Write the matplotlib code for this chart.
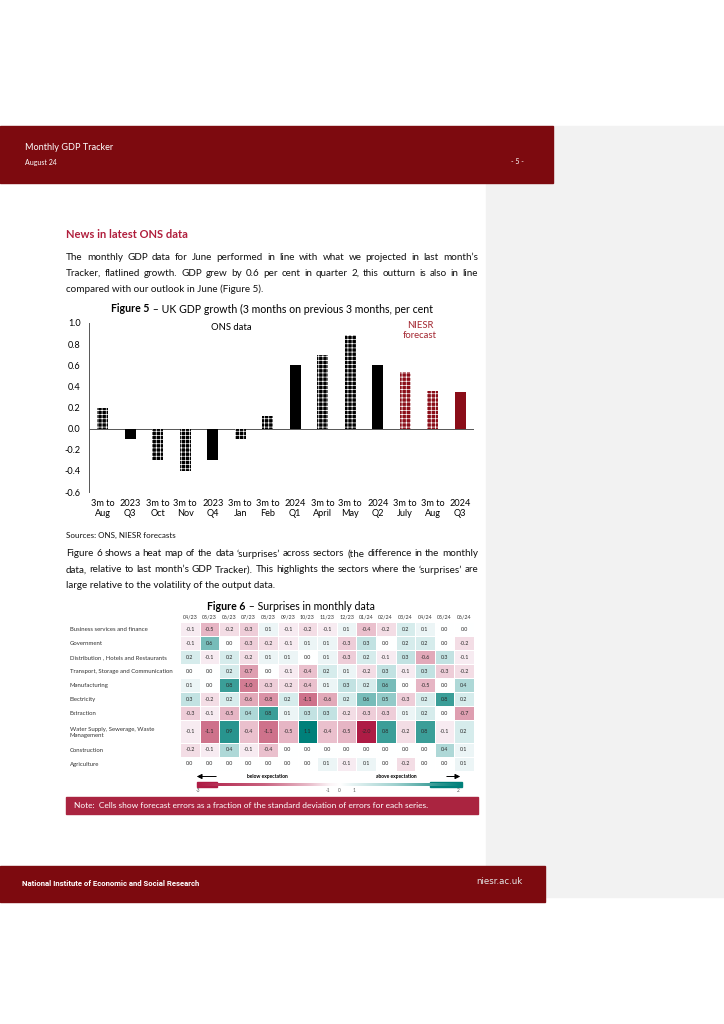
import matplotlib
matplotlib.use('Agg')
import matplotlib.pyplot as plt
import numpy as np
from matplotlib.colors import LinearSegmentedColormap, TwoSlopeNorm
from matplotlib.patches import Rectangle, FancyArrowPatch
from matplotlib.ticker import FormatStrFormatter

plt.rcParams['font.family'] = ['Lato', 'DejaVu Sans']
plt.rcParams['axes.unicode_minus'] = False
plt.rcParams['hatch.linewidth'] = 0.5

# ---------------- data ----------------
bar_labels = ['3m to\nAug', '2023\nQ3', '3m to\nOct', '3m to\nNov', '2023\nQ4', '3m to\nJan',
              '3m to\nFeb', '2024\nQ1', '3m to\nApril', '3m to\nMay', '2024\nQ2', '3m to\nJuly',
              '3m to\nAug', '2024\nQ3']
gdp_growth = [0.2, -0.1, -0.3, -0.4, -0.3, -0.1, 0.12, 0.6, 0.7, 0.89, 0.6, 0.54, 0.36, 0.35]
is_quarter = [False, True, False, False, True, False, False, True, False, False, True, False, False, True]
is_forecast = [False] * 11 + [True] * 3
y_ticks = [1.0, 0.8, 0.6, 0.4, 0.2, 0.0, -0.2, -0.4, -0.6]

sectors = ['Business services and finance', 'Government', 'Distribution , Hotels and Restaurants',
           'Transport, Storage and Communication', 'Manufacturing', 'Electricity', 'Extraction',
           'Water Supply, Sewerage, Waste\nManagement', 'Construction', 'Agriculture']
months = ['04/23', '05/23', '06/23', '07/23', '08/23', '09/23', '10/23', '11/23', '12/23',
          '01/24', '02/24', '03/24', '04/24', '05/24', '06/24']
business = [-0.1, -0.5, -0.2, -0.3, 0.1, -0.1, -0.2, -0.1, 0.1, -0.4, -0.2, 0.2, 0.1, 0.0, 0.0]
government = [-0.1, 0.6, 0.0, -0.3, -0.2, -0.1, 0.1, 0.1, -0.3, 0.3, 0.0, 0.2, 0.2, 0.0, -0.2]
distribution = [0.2, -0.1, 0.2, -0.2, 0.1, 0.1, 0.0, 0.1, -0.3, 0.2, -0.1, 0.3, -0.6, 0.3, -0.1]
transport = [0.0, 0.0, 0.2, -0.7, 0.0, -0.1, -0.4, 0.2, 0.1, -0.2, 0.3, -0.1, 0.3, -0.3, -0.2]
manufacturing = [0.1, 0.0, 0.8, -1.0, -0.3, -0.2, -0.4, 0.1, 0.3, 0.2, 0.6, 0.0, -0.5, 0.0, 0.4]
electricity = [0.3, -0.2, 0.2, -0.6, -0.8, 0.2, -1.1, -0.6, 0.2, 0.6, 0.5, -0.3, 0.2, 0.8, 0.2]
extraction = [-0.3, -0.1, -0.5, 0.4, 0.8, 0.1, 0.3, 0.3, -0.2, -0.3, -0.3, 0.1, 0.2, 0.0, -0.7]
water = [-0.1, -1.1, 0.9, -0.4, -1.1, -0.5, 1.1, -0.4, -0.5, -2.0, 0.8, -0.2, 0.8, -0.1, 0.2]
construction = [-0.2, -0.1, 0.4, -0.1, -0.4, 0.0, 0.0, 0.0, 0.0, 0.0, 0.0, 0.0, 0.0, 0.4, 0.1]
agriculture = [0.0, 0.0, 0.0, 0.0, 0.0, 0.0, 0.0, 0.1, -0.1, 0.1, 0.0, -0.2, 0.0, 0.0, 0.1]
cbar_ticks = ['-3', '-1', '0', '1', '2']

para1 = ["The monthly GDP data for June performed in line with what we projected in last month\u2019s",
         "Tracker, flatlined growth. GDP grew by 0.6 per cent in quarter 2, this outturn is also in line",
         "compared with our outlook in June (Figure 5)."]
para2 = ["Figure 6 shows a heat map of the data \u2018surprises\u2019 across sectors (the difference in the monthly",
         "data, relative to last month\u2019s GDP Tracker). This highlights the sectors where the \u2018surprises\u2019 are",
         "large relative to the volatility of the output data."]

# ---------------- page ----------------
W, H = 724, 1024
fig = plt.figure(figsize=(7.24, 10.24), dpi=100)
pax = fig.add_axes([0, 0, 1, 1])
pax.set_xlim(0, W)
pax.set_ylim(H, 0)
pax.axis('off')
renderer = fig.canvas.get_renderer()

def fbox(x0, y0, x1, y1):
    return [x0 / W, 1 - y1 / H, (x1 - x0) / W, (y1 - y0) / H]

RED = '#7D0A0F'
pax.add_patch(Rectangle((486, 126), W - 486, 897 - 126, color='#F2F2F2', zorder=0))
pax.add_patch(Rectangle((0, 126), 553, 57, color=RED, zorder=1))
pax.add_patch(Rectangle((0, 866), 545, 36, color=RED, zorder=1))

pax.text(25, 148, 'Monthly GDP Tracker', color='white', fontsize=6.6, va='center', zorder=2)
pax.text(25, 162, 'August 24', color='white', fontsize=5.0, va='center', zorder=2)
pax.text(511, 162, '- 5 -', color='white', fontsize=5.0, va='center', zorder=2)
pax.text(22, 884, 'National Institute of Economic and Social Research', color='white',
         fontsize=5.6, va='center', zorder=2, family=['Roboto', 'DejaVu Sans'], fontweight='bold')
pax.text(476, 882, 'niesr.ac.uk', color='#E6E6E6', fontsize=6.2, va='center', zorder=2,
         family=['DejaVu Sans'])

pax.text(66, 234, 'News in latest ONS data', color='#B01E3C', fontsize=8, va='center',
         fontweight='bold')

BODY_COLOR = '#111111'
X0, X1 = 66, 478

def twidth(s, **kw):
    t = pax.text(0, 0, s, **kw)
    w = t.get_window_extent(renderer).width
    t.remove()
    return w

def min_gap(lines, fs):
    g = []
    for s in lines[:-1]:
        words = s.split(' ')
        ws = [twidth(w, fontsize=fs) for w in words]
        g.append((X1 - X0 - sum(ws)) / (len(words) - 1))
    return min(g)

body_fs = 7.9
while min_gap(para1 + para2[:1], body_fs) < 2.3 or min_gap(para2, body_fs) < 2.3:
    body_fs -= 0.05

def draw_para(lines, y0, dy, fs):
    for i, s in enumerate(lines):
        y = y0 + i * dy
        if i == len(lines) - 1:
            pax.text(X0, y, s, va='center', fontsize=fs, color=BODY_COLOR)
            continue
        words = s.split(' ')
        ws = [twidth(w, fontsize=fs) for w in words]
        gap = (X1 - X0 - sum(ws)) / (len(words) - 1)
        x = X0
        for w, wd in zip(words, ws):
            pax.text(x, y, w, va='center', fontsize=fs, color=BODY_COLOR)
            x += wd + gap

draw_para(para1, 257, 16, body_fs)
draw_para(para2, 554, 16, body_fs)

def title(bold, rest, cx, y, fs):
    w1 = twidth(bold, fontsize=fs, fontweight='bold')
    w2 = twidth(rest, fontsize=fs)
    x = cx - (w1 + w2) / 2
    pax.text(x, y, bold, fontsize=fs, fontweight='bold', va='center')
    pax.text(x + w1, y, rest, fontsize=fs, va='center')

title('Figure 5', ' \u2013 UK GDP growth (3 months on previous 3 months, per cent', 272, 309, 7.6)
title('Figure 6', ' \u2013 Surprises in monthly data', 291, 607, 7.6)

pax.text(66, 535, 'Sources: ONS, NIESR forecasts', fontsize=5.8, va='center', color='#111111')

# ---------------- bar chart ----------------
bax = fig.add_axes(fbox(89, 323, 474, 492))
bax.patch.set_alpha(0)
xs = np.arange(len(gdp_growth))
for x, v, q, f in zip(xs, gdp_growth, is_quarter, is_forecast):
    face = '#8A0D18' if f else 'black'
    if q:
        bax.bar(x, v, width=0.4, color=face, linewidth=0, zorder=3)
    else:
        bax.bar(x, v, width=0.4, facecolor=face, edgecolor='white', hatch='++++',
                linewidth=0, zorder=3)
bax.set_xlim(-0.5, len(gdp_growth) - 0.5)
bax.set_ylim(-0.6, 1.0)
bax.axhline(0, color='#555555', linewidth=0.7, zorder=2)
for s in ['top', 'right', 'bottom']:
    bax.spines[s].set_visible(False)
bax.spines['left'].set_color('#555555')
bax.spines['left'].set_linewidth(0.7)
bax.set_yticks(y_ticks)
bax.yaxis.set_major_formatter(FormatStrFormatter('%.1f'))
bax.set_xticks(xs)
bax.set_xticklabels(bar_labels, fontsize=6.6, linespacing=1.15)
bax.tick_params(axis='both', length=0)
bax.tick_params(axis='y', labelsize=6.6, pad=6)
bax.tick_params(axis='x', pad=5)
bax.text(0.37, 0.975, 'ONS data', transform=bax.transAxes, ha='center', va='center', fontsize=6.8)
bax.text(0.86, 0.955, 'NIESR\nforecast', transform=bax.transAxes, ha='center', va='center',
         fontsize=6.8, color='#A32630', linespacing=1.1)

# ---------------- heat map ----------------
heat = np.array([business, government, distribution, transport, manufacturing, electricity,
                 extraction, water, construction, agriculture])
row_h = np.array([1, 1, 1, 1, 1, 1, 1, 1.62, 1, 1])
y_edges = np.concatenate([[0], np.cumsum(row_h)])
x_edges = np.arange(len(months) + 1)
cmap = LinearSegmentedColormap.from_list('surp', [
    (0.0, '#AE1C45'), (0.25, '#D27C93'), (0.40, '#EAC0CD'), (0.47, '#F6E8EE'), (0.5, '#FFFFFF'),
    (0.54, '#EEF6F7'), (0.60, '#D2EAEA'), (0.70, '#A6D4D3'), (0.86, '#3E9F99'), (1.0, '#00807A')])
norm = TwoSlopeNorm(vmin=-2.0, vcenter=0.0, vmax=1.1)

hax = fig.add_axes(fbox(180.2, 622, 473.8, 771))
hax.pcolormesh(x_edges, y_edges, heat, cmap=cmap, norm=norm, edgecolors='white', linewidth=0.4)
hax.set_xlim(0, len(months))
hax.set_ylim(y_edges[-1], 0)
centers = (y_edges[:-1] + y_edges[1:]) / 2
for i in range(heat.shape[0]):
    for j in range(heat.shape[1]):
        hax.text(j + 0.5, centers[i], f'{heat[i, j]:.1f}', ha='center', va='center',
                 fontsize=3.9, color='#2A2A2A')
for s in hax.spines.values():
    s.set_visible(False)
hax.xaxis.tick_top()
hax.set_xticks(np.arange(len(months)) + 0.5)
hax.set_xticklabels(months, fontsize=3.9, color='#333333')
hax.set_yticks(centers)
hax.set_yticklabels(sectors, fontsize=4.3, color='#333333', ha='left', linespacing=1.3)
hax.tick_params(axis='x', length=0, pad=1.5)
hax.tick_params(axis='y', length=0, pad=(180.2 - 70) * 0.72)

# ---------------- colour bar ----------------
cbar_cmap = LinearSegmentedColormap.from_list('cb', [
    (0.0, '#AE1C45'), (0.25, '#C9627F'), (0.42, '#E8BBC9'), (0.50, '#FBF3F6'), (0.54, '#FFFFFF'),
    (0.58, '#EAF5F5'), (0.75, '#9FD1CF'), (0.92, '#2A948E'), (1.0, '#00807A')])
cax = fig.add_axes(fbox(197, 782.5, 462, 786))
cax.imshow(np.linspace(0, 1, 512)[None, :], cmap=cbar_cmap, aspect='auto', extent=(0, 1, 0, 1))
cax.axis('off')
pax.add_patch(Rectangle((197, 781.5), 20, 5, color='#AE1C45', zorder=3))
pax.add_patch(Rectangle((430, 781.5), 32, 5, color='#00807A', zorder=3))
for lab, xp in zip(cbar_ticks, [198, 328, 339, 354, 458]):
    pax.text(xp, 790.5, lab, fontsize=3.4, ha='center', va='center', color='#555555')
pax.add_patch(FancyArrowPatch((219, 776.5), (194, 776.5), arrowstyle='-|>,head_length=3,head_width=1.5',
                              color='black', linewidth=0.7, zorder=4))
pax.add_patch(FancyArrowPatch((444, 776.5), (463, 776.5), arrowstyle='-|>,head_length=3,head_width=1.5',
                              color='black', linewidth=0.7, zorder=4))
pax.text(267, 776.5, 'below expectation', fontsize=3.6, ha='center', va='center', fontweight='bold')
pax.text(396, 776.5, 'above expectation', fontsize=3.6, ha='center', va='center', fontweight='bold')

# ---------------- note ----------------
pax.add_patch(Rectangle((66, 797), 412, 17, color='#AA2440', zorder=1))
pax.text(74, 805.5, 'Note:  Cells show forecast errors as a fraction of the standard deviation of errors for each series.',
         color='white', fontsize=6.0, va='center', zorder=2)

fig.savefig('out.png', dpi=100)
